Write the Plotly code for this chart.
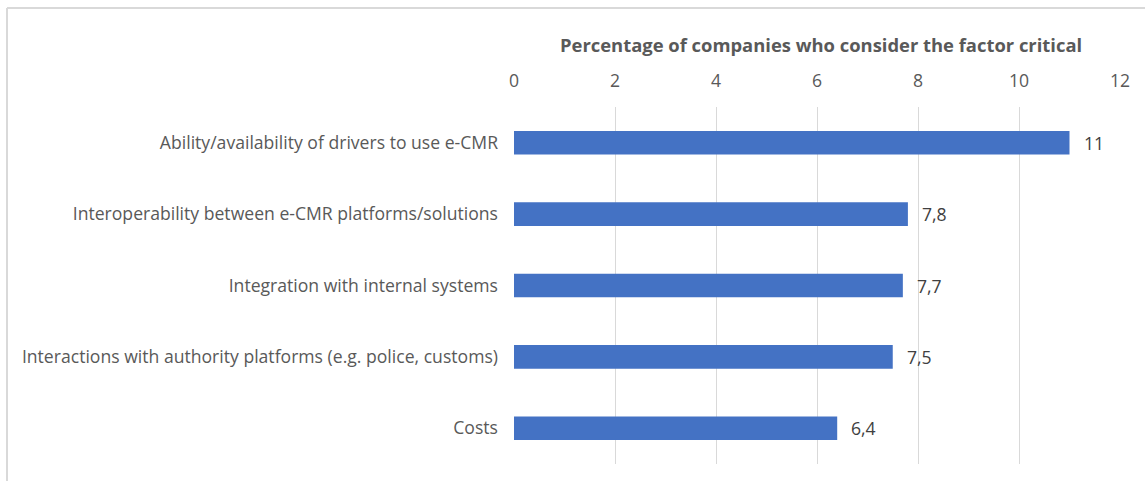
import plotly.graph_objects as go

# Factors and the share of companies that consider each one critical (%)
factors = [
    "Ability/availability of drivers to use e-CMR",
    "Interoperability between e-CMR platforms/solutions",
    "Integration with internal systems",
    "Interactions with authority platforms (e.g. police, customs)",
    "Costs",
]
shares = [11, 7.8, 7.7, 7.5, 6.4]
x_ticks = [0, 2, 4, 6, 8, 10, 12]

FONT = "Open Sans"
TXT = 17.6
W, H = 1145, 481
M_L, M_R, M_T, M_B = 514, 25, 107, 17
plot_w = W - M_L - M_R
plot_h = H - M_T - M_B

labels = [f"{v:g}".replace(".", ",") for v in shares]

fig = go.Figure(
    go.Bar(
        x=shares,
        y=factors,
        orientation="h",
        marker=dict(color="#4472C4", line=dict(width=0)),
        width=0.33,
        hoverinfo="skip",
    )
)

# Value labels to the right of each bar
for f, v, t in zip(factors, shares, labels):
    fig.add_annotation(
        x=v, y=f, text=t, xref="x", yref="y",
        xanchor="left", yanchor="middle", xshift=12,
        showarrow=False,
        font=dict(family=FONT, size=TXT, color="#404040"),
    )

fig.update_layout(
    width=W,
    height=H,
    margin=dict(l=M_L, r=M_R, t=M_T, b=M_B, autoexpand=False),
    paper_bgcolor="white",
    plot_bgcolor="white",
    showlegend=False,
    font=dict(family=FONT, size=TXT, color="#595959"),
    bargap=0.67,
)

fig.update_xaxes(
    side="top",
    range=[0, 12],
    tickvals=x_ticks,
    ticktext=[str(t) for t in x_ticks],
    showgrid=True,
    gridcolor="#d9d9d9",
    gridwidth=1.3,
    zeroline=False,
    showline=False,
    ticks="",
    tickfont=dict(family=FONT, size=TXT, color="#595959"),
    ticklabelstandoff=15,
    fixedrange=True,
)

fig.update_yaxes(
    categoryorder="array",
    categoryarray=factors[::-1],
    showgrid=False,
    zeroline=False,
    showline=False,
    ticks="",
    ticklabelstandoff=15,
    tickfont=dict(family=FONT, size=TXT, color="#595959"),
    fixedrange=True,
)

# Axis title above the tick labels
fig.add_annotation(
    text="<b>Percentage of companies who consider the factor critical</b>",
    xref="paper", yref="paper",
    x=0.5, y=1 + (M_T - 45) / plot_h,
    xanchor="center", yanchor="middle", xshift=4,
    showarrow=False,
    font=dict(family=FONT, size=18.4, color="#595959"),
)

# Chart frame (top and left edges)
def px_x(p):
    return (p - M_L) / plot_w

def px_y(p):
    return 1 - (p - M_T) / plot_h

frame = dict(color="#d9d9d9", width=2)
fig.add_shape(type="line", xref="paper", yref="paper",
              x0=px_x(7), x1=px_x(W + 5), y0=px_y(8), y1=px_y(8), line=frame)
fig.add_shape(type="line", xref="paper", yref="paper",
              x0=px_x(7), x1=px_x(7), y0=px_y(8), y1=px_y(H + 5), line=frame)

fig.write_html("out.html")
